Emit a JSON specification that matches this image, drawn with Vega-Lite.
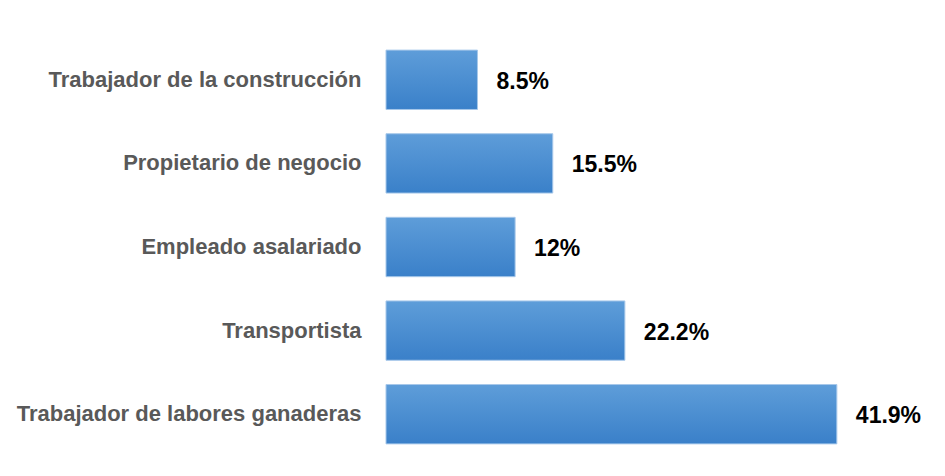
{
  "$schema": "https://vega.github.io/schema/vega-lite/v6.json",
  "width": 538,
  "height": 418,
  "padding": {"left": 16, "top": 38, "right": 0, "bottom": 0},
  "background": "white",
  "config": {"view": {"stroke": null}},
  "data": {
    "values": [
      {"ocupacion": "Trabajador de la construcción", "pct": 8.5, "label": "8.5%"},
      {"ocupacion": "Propietario de negocio", "pct": 15.5, "label": "15.5%"},
      {"ocupacion": "Empleado asalariado", "pct": 12, "label": "12%"},
      {"ocupacion": "Transportista", "pct": 22.2, "label": "22.2%"},
      {"ocupacion": "Trabajador de labores ganaderas", "pct": 41.9, "label": "41.9%"}
    ]
  },
  "encoding": {
    "y": {
      "field": "ocupacion",
      "type": "nominal",
      "sort": null,
      "scale": {"paddingInner": 0.29, "paddingOuter": 0.145},
      "axis": {
        "title": null,
        "domain": false,
        "ticks": false,
        "labelPadding": 25,
        "labelFont": "Liberation Sans",
        "labelFontWeight": "bold",
        "labelFontSize": 22,
        "labelColor": "#595959",
        "labelLimit": 400
      }
    },
    "x": {
      "field": "pct",
      "type": "quantitative",
      "scale": {"domain": [0, 50]},
      "axis": null
    }
  },
  "layer": [
    {
      "mark": {
        "type": "bar",
        "stroke": "#a7c8ea",
        "strokeWidth": 1,
        "fill": {
          "gradient": "linear",
          "x1": 0, "y1": 0, "x2": 0, "y2": 1,
          "stops": [
            {"offset": 0, "color": "#5e9dd9"},
            {"offset": 1, "color": "#3a80c9"}
          ]
        }
      }
    },
    {
      "mark": {
        "type": "text",
        "align": "left",
        "baseline": "middle",
        "dx": 19,
        "dy": 2,
        "font": "Liberation Sans",
        "fontWeight": "bold",
        "fontSize": 23,
        "color": "#000000"
      },
      "encoding": {"text": {"field": "label"}}
    }
  ]
}
